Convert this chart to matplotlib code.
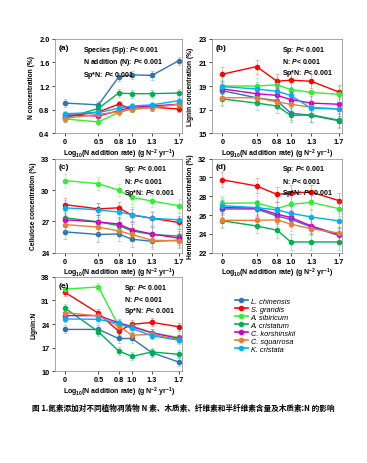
import numpy as np
import matplotlib
matplotlib.use('Agg')
import matplotlib.pyplot as plt

plt.rcParams['font.family'] = ['Liberation Sans', 'DejaVu Sans']
plt.rcParams['mathtext.fontset'] = 'custom'
plt.rcParams['mathtext.rm'] = 'Liberation Sans'
plt.rcParams['mathtext.bf'] = 'Liberation Sans:bold'
plt.rcParams['mathtext.it'] = 'Liberation Sans:italic'
plt.rcParams['mathtext.bfit'] = 'Liberation Sans:italic:bold'

# eje x: log10 de la tasa de adicion de N
x_vals = [0, 0.5, 0.8, 1.0, 1.3, 1.7]
x_labels = ['0', '0.5', '0.8', '1.0', '1.3', '1.7']

especies = ['L. chinensis', 'S. grandis', 'A. sibiricum', 'A. cristatum',
            'C. korshinskii', 'C. squarrosa', 'K. cristata']
colores = ['#2E75B6', '#FF0000', '#33EE33', '#00B050', '#CC00CC', '#ED7D31', '#00B0F0']

# (a) N concentration (%)
n_conc = [
    [0.91, 0.88, 1.35, 1.39, 1.38, 1.63],
    [0.68, 0.76, 0.89, 0.81, 0.84, 0.81],
    [0.64, 0.59, 0.75, 0.81, 0.84, 0.89],
    [0.65, 0.82, 1.08, 1.07, 1.07, 1.08],
    [0.71, 0.69, 0.78, 0.84, 0.86, 0.89],
    [0.65, 0.72, 0.76, 0.81, 0.83, 0.89],
    [0.73, 0.75, 0.82, 0.86, 0.88, 0.95],
]
n_err = [0.07, 0.06, 0.06, 0.07, 0.05, 0.06, 0.05]

# (b) Lignin concentration (%)
lignina = [
    [18.6, 18.0, 17.75, 16.7, 16.5, 16.05],
    [20.0, 20.65, 19.4, 19.5, 19.4, 18.5],
    [19.0, 19.0, 19.1, 18.7, 18.45, 18.3],
    [17.9, 17.55, 17.3, 16.5, 16.55, 16.1],
    [18.75, 18.35, 18.2, 17.85, 17.55, 17.45],
    [18.0, 18.0, 17.65, 17.45, 17.2, 17.05],
    [18.95, 18.75, 18.55, 18.2, 17.1, 17.05],
]
lig_err = [0.6, 0.6, 0.7, 0.6, 0.6, 0.6, 0.6]

# (c) Cellulose concentration (%)
celulosa = [
    [26.0, 25.75, 25.8, 25.3, 25.1, 25.2],
    [28.6, 28.2, 28.3, 27.6, 27.3, 26.9],
    [30.9, 30.6, 30.0, 29.3, 28.95, 28.5],
    [27.35, 26.95, 26.6, 26.1, 25.75, 25.6],
    [27.15, 26.95, 26.75, 26.2, 25.8, 25.4],
    [26.7, 26.45, 26.1, 25.75, 25.2, 25.15],
    [28.3, 28.1, 27.9, 27.65, 27.3, 27.15],
]
cel_err = [0.7, 0.6, 0.6, 0.7, 0.7, 0.6, 0.7]

# (d) Hemicellulose concentration (%)
hemicel = [
    [26.65, 26.65, 25.9, 25.55, 24.75, 23.85],
    [29.75, 29.1, 28.2, 28.35, 28.45, 27.55],
    [27.25, 27.3, 26.7, 27.15, 27.35, 26.7],
    [25.4, 24.85, 24.4, 23.15, 23.15, 23.15],
    [26.8, 26.75, 26.1, 25.75, 24.85, 23.95],
    [25.45, 25.45, 25.5, 25.05, 24.55, 24.1],
    [27.0, 26.8, 26.55, 26.2, 25.8, 25.4],
]
hem_err = [0.8, 0.8, 0.8, 0.8, 0.8, 0.7, 0.8]

# (e) Lignin:N
lig_n = [
    [22.4, 22.4, 19.7, 19.7, 15.5, 12.7],
    [33.4, 27.2, 21.9, 23.9, 24.5, 23.2],
    [34.4, 35.0, 23.5, 23.5, 21.4, 20.0],
    [28.7, 21.7, 16.0, 14.4, 15.7, 15.0],
    [26.5, 26.5, 24.4, 23.2, 21.4, 19.7],
    [27.4, 26.4, 23.4, 20.7, 20.9, 19.4],
    [25.5, 25.4, 24.2, 22.7, 20.5, 19.2],
]
ln_err = [1.2, 1.2, 1.2, 1.2, 1.0, 1.0, 1.0]

paneles = [
    ('(a)', n_conc, n_err, 'N concentration (%)', (0.4, 2.0), [0.4, 0.8, 1.2, 1.6, 2.0], '%.1f',
     ['Species (Sp): ', 'N addition (N): ', 'Sp*N: ']),
    ('(b)', lignina, lig_err, 'Lignin concentration (%)', (15, 23), [15, 17, 19, 21, 23], '%d',
     ['Sp: ', 'N: ', 'Sp*N: ']),
    ('(c)', celulosa, cel_err, 'Cellulose concentration (%)', (24, 33), [24, 27, 30, 33], '%d',
     ['Sp: ', 'N: ', 'Sp*N: ']),
    ('(d)', hemicel, hem_err, 'Hemicellulose  concentration (%)', (22, 32), [22, 24, 26, 28, 30, 32], '%d',
     ['Sp: ', 'N: ', 'Sp*N: ']),
    ('(e)', lig_n, ln_err, 'Lignin:N', (10, 38), [10, 17, 24, 31, 38], '%d',
     ['Sp: ', 'N: ', 'Sp*N: ']),
]

posiciones = [
    [0.150, 0.711, 0.346, 0.203],
    [0.578, 0.711, 0.354, 0.203],
    [0.150, 0.453, 0.346, 0.203],
    [0.578, 0.453, 0.354, 0.203],
    [0.150, 0.198, 0.346, 0.203],
]

fig = plt.figure(figsize=(3.67, 4.64), dpi=100)

for (letra, datos, errs, ylab, ylim, yticks, fmt, stats), pos in zip(paneles, posiciones):
    ax = fig.add_axes(pos)
    for serie, e, c in zip(datos, errs, colores):
        ax.errorbar(x_vals, serie, yerr=e, color=c, ecolor=c, elinewidth=0.6,
                    capsize=1.5, capthick=0.6, alpha=0.35, fmt='none')
        ax.plot(x_vals, serie, color=c, lw=1.0, marker='o', ms=3)
    ax.set_xlim(-0.15, 1.75)
    ax.set_ylim(*ylim)
    ax.set_xticks(x_vals)
    ax.set_xticklabels(x_labels)
    ax.set_yticks(yticks)
    ax.set_yticklabels([fmt % v for v in yticks])
    ax.tick_params(labelsize=5.3, length=2, width=0.5, pad=2)
    ax.tick_params(axis='x', pad=1.5)
    for lab in ax.get_xticklabels() + ax.get_yticklabels():
        lab.set_fontweight('bold')
    for s in ax.spines.values():
        s.set_color('#999999')
        s.set_linewidth(0.6)
    ax.set_ylabel(ylab, fontsize=4.8, fontweight='bold', labelpad=3)
    ax.set_xlabel(r'Log$_{\mathbf{10}}$(N addition rate) (g N$^{\mathbf{-2}}$ yr$^{\mathbf{-1}}$)',
                  fontsize=5, fontweight='bold', labelpad=1)
    ax.text(0.03, 0.95, letra, transform=ax.transAxes, fontsize=6, fontweight='bold', va='top')
    x0 = 0.22 if letra == '(a)' else 0.54
    bloque = '\n'.join(s + r'$\mathbfit{P}$' + '< 0.001' for s in stats)
    ax.text(x0, 0.95, bloque, transform=ax.transAxes, fontsize=5, fontweight='bold',
            va='top', linespacing=1.25)

# leyenda
hs = [plt.Line2D([], [], color=c, lw=1.2, marker='o', ms=3) for c in colores]
fig.legend(hs, especies, loc='upper left', bbox_to_anchor=(0.625, 0.368),
           bbox_transform=fig.transFigure, frameon=False,
           prop={'style': 'italic', 'size': 5.3},
           handlelength=1.8, handletextpad=0.4, labelspacing=0.12, borderpad=0.2)

fig.text(0.087, 0.121, '图 1.氮素添加对不同植物凋落物 N 素、木质素、纤维素和半纤维素含量及木质素:N 的影响',
         fontsize=5.5, fontweight='bold', family=['Noto Sans CJK SC', 'DejaVu Sans'], va='center')

fig.savefig('out.png', dpi=100)
